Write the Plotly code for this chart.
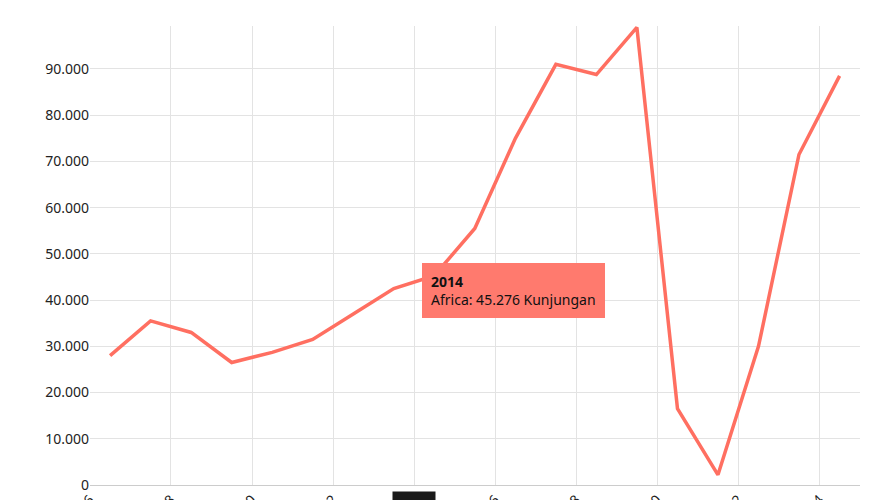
import plotly.graph_objects as go

years = list(range(2006, 2025))
values = [28000, 35500, 33000, 26500, 28700, 31500, 37000, 42500, 45276, 55500,
          75000, 91000, 88800, 99000, 16500, 2200, 30000, 71500, 88500]
tick_years = list(range(2006, 2025, 2))

xs = [f"{y}-07-01" for y in years]
color = "#ff6f61"

fig = go.Figure(go.Scatter(x=xs, y=values, mode="lines",
                           line=dict(color=color, width=3.5), hoverinfo="skip"))

fig.update_layout(
    width=873, height=500, margin=dict(l=82, r=21, t=18, b=23),
    plot_bgcolor="white", paper_bgcolor="white", showlegend=False,
    font=dict(family="Noto Sans, Open Sans, sans-serif", size=14, color="#222"),
    separators=",.",
    xaxis=dict(type="date", range=["2006-01-01", "2025-01-01"], automargin=False,
               tickvals=[f"{y}-01-01" for y in tick_years],
               ticktext=[str(y) for y in tick_years], tickangle=-45,
               showgrid=True, gridcolor="#e3e3e3", showline=True, linecolor="#ccc",
               ticks="", zeroline=False),
    yaxis=dict(range=[0, 99300], tickvals=list(range(0, 100000, 10000)), automargin=False,
               tickformat=",d", showgrid=True, gridcolor="#e3e3e3", zeroline=False,
               ticks="", showline=False),
    annotations=[
        dict(x="2014-01-01", y=42000, xref="x", yref="y", xanchor="left", yanchor="middle",
             xshift=8, yshift=0, showarrow=False, align="left",
             text="<b>2014</b><br>Africa: 45.276 Kunjungan",
             bgcolor="#ff7a6e", bordercolor="#ff7a6e", borderpad=8,
             font=dict(size=14, color="#111")),
        dict(x="2014-01-01", y=0, xref="x", yref="paper", yanchor="top", xanchor="center",
             yshift=-6, showarrow=False, text="2014", bgcolor="#1a1a1a",
             font=dict(size=14, color="white"), borderpad=5),
    ],
)
fig.write_html("out.html")
